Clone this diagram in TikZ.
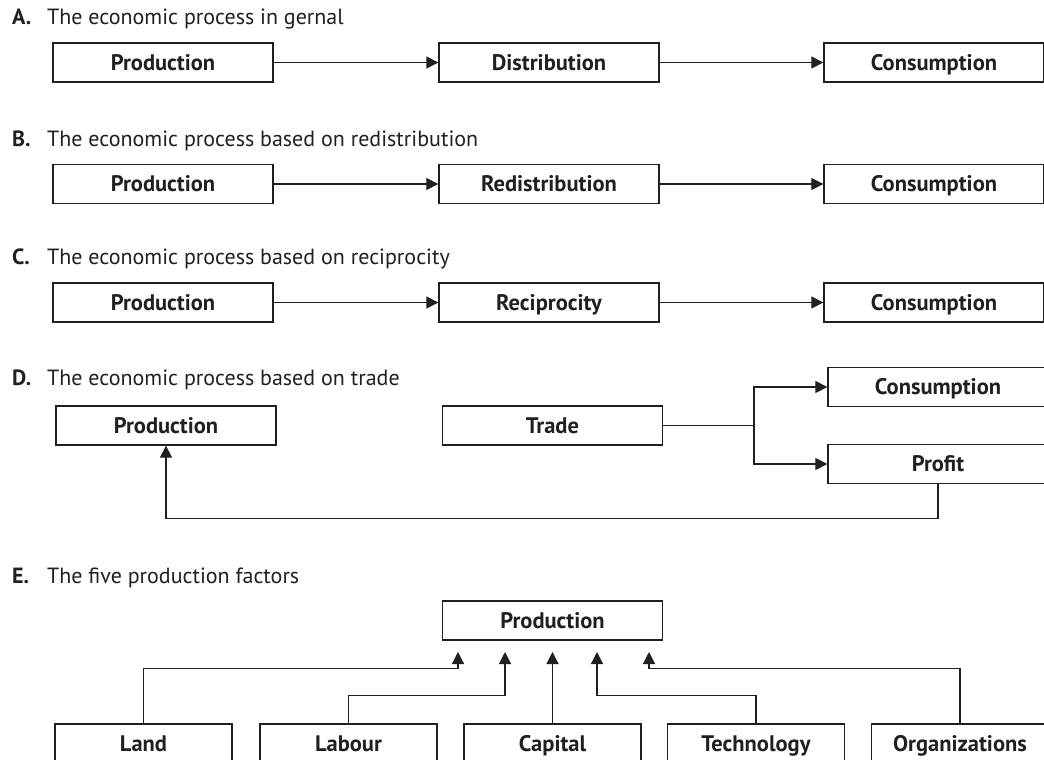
\documentclass[tikz,border=0pt]{standalone}
\usepackage{fontspec}
\setmainfont{PT Sans}
\usetikzlibrary{arrows.meta, positioning, calc}

\newcommand{\boxfont}{\fontsize{22.5}{26}\selectfont\bfseries}
\newcommand{\titlefont}{\fontsize{22}{26}\selectfont}

\begin{document}
\begin{tikzpicture}[
    x=1pt, y=-1pt,
    box/.style={rectangle, draw=linecolor, line width=1.3pt, minimum width=220pt, minimum height=39pt, inner sep=0pt, text height=15.5pt, text depth=0pt, font=\boxfont, text=textcolor},
    factor/.style={box, minimum width=177pt},
    arrow/.style={-{Triangle[length=12pt, width=12pt]}, line width=1.2pt, linecolor},
    link/.style={line width=1.2pt, linecolor},
    letter/.style={anchor=base west, inner sep=0pt, font=\titlefont\bfseries, text=textcolor},
    heading/.style={anchor=base west, inner sep=0pt, font=\titlefont, text=textcolor}
]

% Colours of lines and text
\definecolor{linecolor}{RGB}{35, 31, 32}
\definecolor{textcolor}{RGB}{35, 31, 32}

% Page frame (right and bottom boxes run off the edge)
\useasboundingbox (0,0) rectangle (1044,760);
\clip (0,0) rectangle (1044,760);

% A. general process
\node[letter] (letA) at (12,25) {A.};
\node[heading] (headA) at (47,25) {The economic process in gernal};
\node[box] (prodA) at (163,62.5) {Production};
\node[box] (distA) at (549,62.5) {Distribution};
\node[box] (consA) at (934,62.5) {Consumption};
\draw[arrow] (prodA) -- (distA);
\draw[arrow] (distA) -- (consA);

% B. redistribution
\node[letter] (letB) at (12,146.5) {B.};
\node[heading] (headB) at (47,146.5) {The economic process based on redistribution};
\node[box] (prodB) at (163,184) {Production};
\node[box] (redB) at (549,184) {Redistribution};
\node[box] (consB) at (934,184) {Consumption};
\draw[arrow] (prodB) -- (redB);
\draw[arrow] (redB) -- (consB);

% C. reciprocity
\node[letter] (letC) at (12,264.5) {C.};
\node[heading] (headC) at (47,264.5) {The economic process based on reciprocity};
\node[box] (prodC) at (163,302.5) {Production};
\node[box] (recC) at (549,302.5) {Reciprocity};
\node[box] (consC) at (934,302.5) {Consumption};
\draw[arrow] (prodC) -- (recC);
\draw[arrow] (recC) -- (consC);

% D. trade, with profit fed back
\node[letter] (letD) at (12,385) {D.};
\node[heading] (headD) at (47,385) {The economic process based on trade};
\node[box] (prodD) at (166,425.5) {Production};
\node[box] (tradeD) at (552.5,425.5) {Trade};
\node[box] (consD) at (938,387) {Consumption};
\node[box] (profitD) at (938,464) {Profit};
\coordinate (split) at (754,425.5);
\draw[link] (tradeD.east) -- (split);
\draw[arrow] (split) |- (consD.west);
\draw[arrow] (split) |- (profitD.west);
\draw[arrow] (profitD.south) -- ++(0,34) -| (prodD.south);

% E. production factors
\node[letter] (letE) at (12,583) {E.};
\node[heading] (headE) at (47,583) {The five production factors};
\node[box] (prodE) at (552.5,620.5) {Production};
\node[factor] (land) at (143.5,743.5) {Land};
\node[factor] (labour) at (348.5,743.5) {Labour};
\node[factor] (capital) at (552.5,743.5) {Capital};
\node[factor] (tech) at (756,743.5) {Technology};
\node[factor] (org) at (960,743.5) {Organizations};

% arrow ends below the Production box
\coordinate (inLand) at (458,652);
\coordinate (inLabour) at (505,652);
\coordinate (inCapital) at (552.5,652);
\coordinate (inTech) at (597,652);
\coordinate (inOrg) at (649,652);

\draw[arrow] (land.north) -- ++(0,-55) -| (inLand);
\draw[arrow] (labour.north) -- ++(0,-28) -| (inLabour);
\draw[arrow] (capital.north) -- (inCapital);
\draw[arrow] (tech.north) -- ++(0,-28) -| (inTech);
\draw[arrow] (org.north) -- ++(0,-55) -| (inOrg);

\end{tikzpicture}
\end{document}
